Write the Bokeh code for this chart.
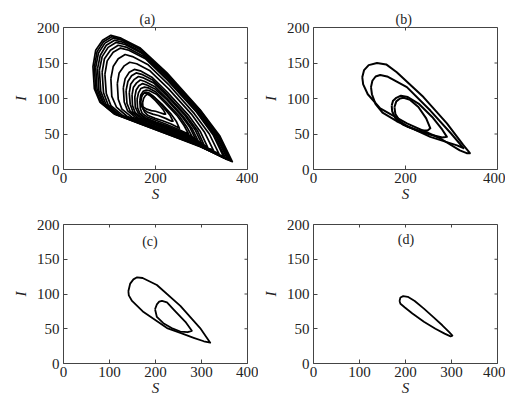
import math
from bokeh.plotting import figure
from bokeh.layouts import column, row
from bokeh.models import Label, FixedTicker
from bokeh.embed import file_html
from bokeh.resources import INLINE

# ---------------- data ----------------
s_ticks_top = [0, 200, 400]
s_ticks_bottom = [0, 100, 200, 300, 400]
i_ticks = [0, 50, 100, 150, 200]
panel_labels = ["(a)", "(b)", "(c)", "(d)"]

# (a) chaotic attractor: nested loops
a_S = [
    [64, 70, 85, 103, 125, 167, 225, 297, 340, 367, 355, 297, 225, 167, 109, 79, 67],
    [67, 73, 87, 105, 126, 168, 225, 296, 338, 364, 352, 296, 225, 168, 111, 82, 70],
    [70, 76, 90, 108, 128, 169, 225, 295, 336, 362, 350, 295, 225, 169, 114, 85, 73],
    [74, 80, 93, 111, 131, 170, 225, 293, 333, 359, 347, 293, 225, 170, 117, 88, 77],
    [78, 84, 97, 114, 134, 172, 225, 292, 331, 356, 345, 292, 225, 172, 120, 92, 81],
    [84, 89, 102, 119, 138, 175, 226, 290, 328, 352, 341, 290, 226, 175, 124, 97, 87],
    [90, 95, 108, 124, 142, 178, 227, 289, 325, 348, 338, 289, 227, 178, 129, 103, 93],
    [103, 108, 119, 134, 150, 183, 228, 284, 317, 338, 329, 284, 228, 183, 138, 115, 105],
    [117, 121, 132, 144, 159, 188, 228, 278, 307, 326, 318, 278, 228, 188, 148, 127, 119],
    [130, 134, 143, 154, 167, 192, 227, 271, 297, 313, 306, 271, 227, 192, 157, 139, 132],
    [136, 140, 148, 158, 170, 194, 226, 267, 291, 306, 300, 267, 226, 194, 162, 145, 138],
    [143, 146, 154, 163, 174, 196, 226, 264, 286, 300, 294, 264, 226, 196, 167, 151, 145],
    [149, 152, 159, 167, 177, 198, 225, 260, 280, 293, 288, 260, 225, 198, 171, 156, 150],
    [155, 158, 164, 172, 181, 200, 225, 257, 275, 287, 282, 257, 225, 200, 175, 162, 156],
    [160, 163, 168, 176, 184, 201, 223, 252, 268, 280, 275, 252, 223, 201, 178, 166, 161],
    [166, 168, 173, 180, 187, 202, 222, 248, 262, 272, 268, 248, 222, 202, 182, 171, 167],
    [172, 174, 178, 182, 188, 199, 214, 234, 245, 252, 249, 234, 214, 199, 184, 176, 173],
    [168, 170, 174, 179, 185, 194, 206, 222, 232, 238, 235, 222, 206, 194, 182, 173, 169],
    [167, 169, 172, 177, 182, 190, 200, 212, 218, 222, 219, 210, 200, 191, 181, 173, 168],
]
a_I = [
    [145, 168, 182, 189, 185, 171, 136, 84, 47, 11, 15, 32, 50, 64, 79, 95, 114],
    [144, 166, 180, 187, 183, 169, 134, 84, 47, 12, 15, 33, 50, 64, 78, 94, 113],
    [144, 164, 178, 185, 182, 168, 133, 84, 47, 13, 16, 34, 51, 65, 78, 94, 113],
    [142, 161, 175, 182, 179, 165, 131, 83, 47, 14, 17, 34, 51, 64, 77, 93, 111],
    [140, 159, 172, 179, 176, 163, 130, 82, 48, 15, 18, 35, 51, 64, 77, 92, 110],
    [137, 156, 168, 175, 172, 159, 127, 81, 48, 16, 19, 35, 51, 64, 76, 91, 108],
    [134, 153, 165, 171, 168, 156, 125, 81, 49, 18, 21, 36, 52, 64, 76, 90, 107],
    [128, 145, 156, 162, 159, 148, 120, 79, 50, 22, 25, 39, 53, 64, 75, 88, 103],
    [121, 136, 146, 151, 149, 139, 114, 78, 52, 27, 29, 42, 54, 64, 74, 85, 99],
    [115, 128, 137, 141, 139, 130, 108, 77, 54, 32, 34, 45, 56, 65, 73, 83, 95],
    [111, 124, 132, 136, 134, 126, 105, 76, 55, 34, 36, 46, 57, 65, 73, 82, 93],
    [108, 120, 127, 131, 129, 122, 103, 76, 56, 37, 39, 48, 58, 65, 73, 81, 92],
    [105, 116, 122, 126, 124, 117, 100, 75, 57, 40, 42, 50, 59, 65, 73, 80, 90],
    [102, 112, 118, 121, 119, 113, 98, 75, 59, 43, 45, 52, 60, 66, 73, 80, 88],
    [99, 108, 114, 116, 115, 109, 95, 75, 60, 46, 48, 54, 62, 67, 73, 79, 87],
    [97, 105, 110, 112, 111, 106, 93, 75, 62, 50, 51, 57, 64, 69, 74, 79, 86],
    [94, 100, 104, 106, 105, 101, 92, 78, 68, 58, 59, 64, 69, 72, 76, 81, 86],
    [96, 103, 107, 109, 108, 104, 96, 84, 76, 68, 68, 72, 76, 78, 81, 85, 90],
    [95, 102, 106, 108, 107, 103, 97, 88, 83, 78, 78, 80, 82, 83, 85, 88, 91],
]

# (b) period-4 cycle
b_S = [
    [106, 110, 120, 138, 158, 181, 239, 290, 325, 340, 333, 318, 275, 203, 145, 118, 108],
    [125, 128, 135, 145, 160, 203, 254, 300, 326, 312, 254, 181, 150, 135, 127],
    [170, 173, 180, 190, 205, 230, 258, 280, 290, 280, 255, 225, 195, 178, 171],
    [176, 180, 188, 196, 210, 228, 245, 254, 248, 228, 205, 188, 178],
]
b_I = [
    [130, 140, 147, 150, 148, 137, 102, 65, 35, 23, 23, 27, 44, 65, 86, 106, 120],
    [116, 125, 131, 133, 131, 116, 83, 50, 30, 34, 46, 68, 80, 92, 106],
    [90, 97, 101, 104, 102, 92, 74, 56, 46, 45, 49, 55, 63, 72, 82],
    [88, 96, 100, 101, 98, 88, 72, 58, 55, 55, 60, 68, 78],
]

# (c) period-2 cycle
c_S = [
    [141, 145, 152, 160, 172, 203, 254, 297, 319, 305, 283, 254, 225, 174, 149, 142],
    [199, 203, 208, 214, 225, 239, 265, 279, 270, 254, 235, 217, 203],
]
c_I = [
    [104, 115, 121, 124, 123, 113, 83, 51, 30, 32, 37, 44, 51, 74, 90, 98],
    [78, 85, 89, 90, 88, 78, 60, 47, 45, 46, 51, 58, 67],
]

# (d) period-1 cycle
d_S = [[187, 189, 195, 205, 220, 240, 260, 280, 295, 302, 298, 285, 265, 240, 215, 198, 189]]
d_I = [[90, 95, 97, 96, 90, 79, 67, 55, 45, 40, 39, 43, 50, 60, 72, 81, 86]]

inside_label_pos = {"(c)": (188, 175), "(d)": (201, 178)}
title_offset = {"(a)": 76, "(b)": 82}

FONT = "Liberation Serif"
INK = "#222222"
FRAME = "#444444"
S_MAX, I_MAX = 400, 200


def style_axis(ax):
    ax.axis_line_color = None
    ax.major_tick_in = 4
    ax.major_tick_out = 0
    ax.minor_tick_line_color = None
    ax.major_tick_line_color = FRAME
    ax.major_label_text_font = FONT
    ax.major_label_text_font_size = "15px"
    ax.major_label_text_color = INK
    ax.axis_label_text_font = FONT
    ax.axis_label_text_font_style = "italic"
    ax.axis_label_text_font_size = "15px"
    ax.axis_label_text_color = INK


def make_panel(S, I, sticks, label, width, height, borders, lw):
    p = figure(width=width, height=height, x_range=(0, S_MAX), y_range=(0, I_MAX),
               output_backend="svg", toolbar_location=None,
               min_border_left=borders[0], min_border_right=borders[1],
               min_border_top=borders[2], min_border_bottom=borders[3])
    p.grid.visible = False
    p.outline_line_color = FRAME
    p.outline_line_width = 1
    p.background_fill_color = "white"
    p.border_fill_color = "white"
    style_axis(p.xaxis[0])
    style_axis(p.yaxis[0])
    p.xaxis[0].ticker = FixedTicker(ticks=sticks)
    p.yaxis[0].ticker = FixedTicker(ticks=i_ticks)
    p.xaxis[0].axis_label = "S"
    p.yaxis[0].axis_label = "I"
    p.xaxis[0].major_label_standoff = 3
    p.yaxis[0].major_label_standoff = 4
    p.xaxis[0].axis_label_standoff = 0
    p.yaxis[0].axis_label_standoff = 5

    # mirrored inward tick marks on the top and right edges
    p.ray(x=sticks, y=[I_MAX] * len(sticks), length=3, length_units="screen",
          angle=-math.pi / 2, line_color=FRAME, line_width=1)
    p.ray(x=[S_MAX] * len(i_ticks), y=i_ticks, length=3, length_units="screen",
          angle=math.pi, line_color=FRAME, line_width=1)

    xs = [list(s) + [s[0]] for s in S]
    ys = [list(i) + [i[0]] for i in I]
    p.multi_line(xs, ys, line_color="black", line_width=lw, line_join="round")
    if label in inside_label_pos:
        lx, ly = inside_label_pos[label]
        p.add_layout(Label(x=lx, y=ly, text=label, text_font=FONT,
                           text_font_size="14px", text_align="center",
                           text_baseline="middle", text_color=INK))
    else:
        p.title.text = label
        p.title.align = "left"
        p.title.offset = title_offset[label]
        p.title.text_font = FONT
        p.title.text_font_style = "normal"
        p.title.text_font_size = "14px"
        p.title.text_color = INK
        p.title.standoff = 2
    return p


pa = make_panel(a_S, a_I, s_ticks_top, panel_labels[0], 258, 204, (63, 11, 27, 35), 1.7)
pb = make_panel(b_S, b_I, s_ticks_top, panel_labels[1], 247, 204, (55, 8, 27, 35), 2.0)
pc = make_panel(c_S, c_I, s_ticks_bottom, panel_labels[2], 258, 194, (63, 11, 20, 30), 1.8)
pd = make_panel(d_S, d_I, s_ticks_bottom, panel_labels[3], 247, 194, (55, 8, 20, 30), 1.8)

layout = column(row(pa, pb), row(pc, pd))
open("out.html", "w").write(file_html(layout, INLINE))
